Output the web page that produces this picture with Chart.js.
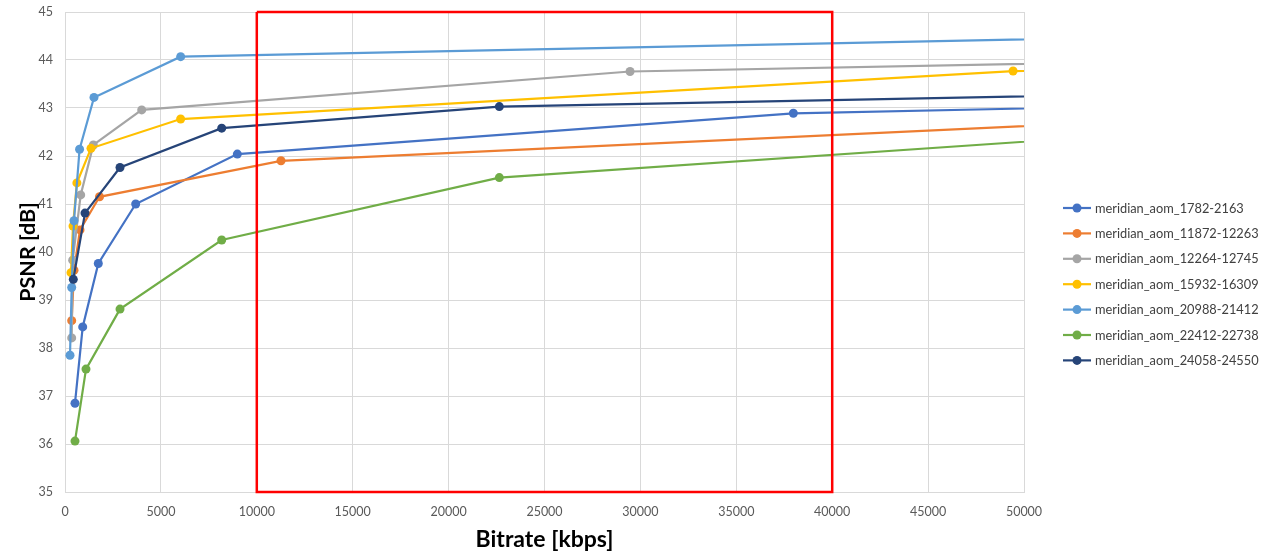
<!DOCTYPE html>
<html>
<head>
<meta charset="utf-8">
<script src="https://cdn.jsdelivr.net/npm/chart.js@4/dist/chart.umd.min.js"></script>
<style>
  html, body { margin: 0; padding: 0; background: #ffffff; }
  #wrap { width: 1270px; height: 555px; position: relative; }
</style>
</head>
<body>
<div id="wrap"><canvas id="c" width="1270" height="555"></canvas></div>
<script>
// ---- Data ----
const seriesNames = [
  'meridian_aom_1782-2163',
  'meridian_aom_11872-12263',
  'meridian_aom_12264-12745',
  'meridian_aom_15932-16309',
  'meridian_aom_20988-21412',
  'meridian_aom_22412-22738',
  'meridian_aom_24058-24550'
];
const seriesColors = ['#4472C4', '#ED7D31', '#A5A5A5', '#FFC000', '#5B9BD5', '#70AD47', '#264478'];

const bitrate_1782  = [521, 923, 1737, 3686, 8985, 37975, 90000];
const psnr_1782     = [36.85, 38.44, 39.76, 41.00, 42.04, 42.89, 43.32];

const bitrate_11872 = [349, 470, 782, 1800, 11262, 60000];
const psnr_11872    = [38.57, 39.62, 40.46, 41.15, 41.90, 42.81];

const bitrate_12264 = [349, 401, 818, 1477, 4000, 29460, 90000];
const psnr_12264    = [38.21, 39.83, 41.19, 42.23, 42.96, 43.76, 44.23];

const bitrate_15932 = [313, 417, 620, 1356, 6030, 49430, 90000];
const psnr_15932    = [39.57, 40.54, 41.44, 42.16, 42.77, 43.77, 43.85];

const bitrate_20988 = [261, 349, 469, 760, 1512, 6030, 90000];
const psnr_20988    = [37.85, 39.26, 40.65, 42.14, 43.22, 44.07, 44.76];

const bitrate_22412 = [521, 1095, 2868, 8170, 22645, 60000];
const psnr_22412    = [36.06, 37.56, 38.81, 40.25, 41.55, 42.57];

const bitrate_24058 = [433, 1043, 2868, 8170, 22645, 90000];
const psnr_24058    = [39.43, 40.81, 41.76, 42.58, 43.03, 43.55];

// highlighted region (red rectangle), in data units
const boxBitrate = [10000, 40000, 40000, 10000, 10000];
const boxPsnr    = [45, 45, 35, 35, 45];

// axis ranges / ticks
const xMin = 0, xMax = 50000, xStep = 5000;
const yMin = 35, yMax = 45, yStep = 1;
const xTitle = 'Bitrate [kbps]';
const yTitle = 'PSNR [dB]';

// ---- build datasets ----
const allBitrates = [bitrate_1782, bitrate_11872, bitrate_12264, bitrate_15932, bitrate_20988, bitrate_22412, bitrate_24058];
const allPsnr     = [psnr_1782, psnr_11872, psnr_12264, psnr_15932, psnr_20988, psnr_22412, psnr_24058];

const toPoints = (xs, ys) => xs.map((x, i) => ({ x: x, y: ys[i] }));

const datasets = seriesNames.map((name, i) => ({
  label: name,
  data: toPoints(allBitrates[i], allPsnr[i]),
  borderColor: seriesColors[i],
  backgroundColor: seriesColors[i],
  pointBackgroundColor: seriesColors[i],
  pointBorderColor: seriesColors[i],
  pointBorderWidth: 0,
  pointRadius: 4.5,
  borderWidth: 2.2,
  tension: 0,
  fill: false,
  order: 10 - i
}));

datasets.push({
  label: 'box',
  isBox: true,
  data: toPoints(boxBitrate, boxPsnr),
  borderColor: '#FF0000',
  backgroundColor: 'rgba(0,0,0,0)',
  borderWidth: 2.5,
  pointRadius: 0,
  fill: false,
  tension: 0,
  clip: false,
  order: 0
});

// ---- side legend: line + marker like the reference ----
const sideLegend = {
  id: 'sideLegend',
  afterDraw(chart) {
    const ctx = chart.ctx;
    const items = chart.data.datasets.filter(d => !d.isBox);
    items.forEach((ds, i) => {
      const y = 208 + i * 25.4;
      ctx.save();
      ctx.strokeStyle = ds.borderColor;
      ctx.lineWidth = 2.2;
      ctx.beginPath();
      ctx.moveTo(1063, y);
      ctx.lineTo(1091, y);
      ctx.stroke();
      ctx.fillStyle = ds.borderColor;
      ctx.beginPath();
      ctx.arc(1077, y, 4.5, 0, Math.PI * 2);
      ctx.fill();
      ctx.fillStyle = '#404040';
      ctx.font = '12.8px Lato';
      ctx.textBaseline = 'middle';
      ctx.textAlign = 'left';
      ctx.fillText(ds.label, 1095, y + 0.5);
      ctx.restore();
    });
  }
};

new Chart(document.getElementById('c'), {
  type: 'line',
  data: { datasets: datasets },
  options: {
    responsive: false,
    animation: false,
    events: [],
    layout: { padding: { left: 0, right: 246, top: 12, bottom: 0 } },
    plugins: {
      legend: { display: false },
      tooltip: { enabled: false }
    },
    scales: {
      x: {
        type: 'linear',
        min: xMin, max: xMax,
        afterFit: (s) => { s.height = 63; s.paddingLeft = 0; s.paddingRight = 0; },
        ticks: {
          stepSize: xStep,
          padding: 12,
          color: '#595959',
          font: { family: 'Lato', size: 12.5 },
          maxRotation: 0,
          autoSkip: false,
          callback: (v) => String(v)
        },
        grid: { color: '#D9D9D9', lineWidth: 1, drawTicks: false },
        border: { color: '#D9D9D9', width: 1 },
        title: {
          display: true,
          text: xTitle,
          color: '#000000',
          font: { family: 'Lato', size: 23, weight: 'bold' },
          padding: { top: 0, bottom: 2 }
        }
      },
      y: {
        type: 'linear',
        min: yMin, max: yMax,
        afterFit: (s) => { s.width = 65; s.paddingTop = 0; s.paddingBottom = 0; },
        ticks: {
          stepSize: yStep,
          padding: 12,
          color: '#595959',
          font: { family: 'Lato', size: 12.5 },
          callback: (v) => String(v)
        },
        grid: { color: '#D9D9D9', lineWidth: 1, drawTicks: false },
        border: { color: '#D9D9D9', width: 1 },
        title: {
          display: true,
          text: yTitle,
          color: '#000000',
          font: { family: 'Lato', size: 21.5, weight: 'bold' },
          padding: { top: 15, bottom: 0 }
        }
      }
    }
  },
  plugins: [sideLegend]
});
</script>
</body>
</html>
